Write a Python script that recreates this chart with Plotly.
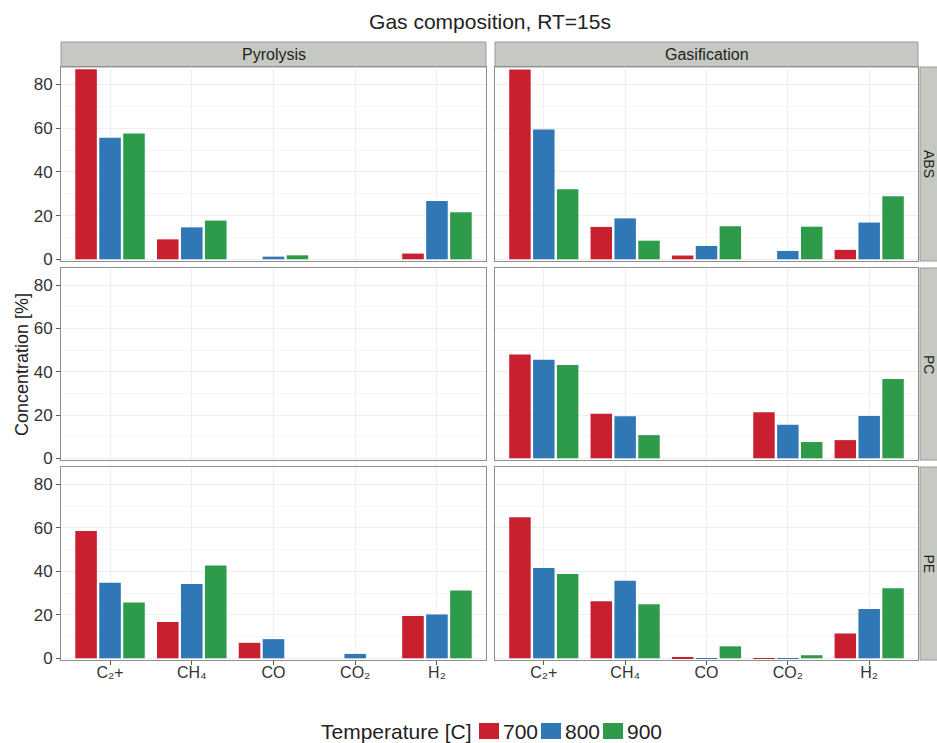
import plotly.graph_objects as go

W, H = 937, 743

categories = ["C₂+", "CH₄", "CO", "CO₂", "H₂"]
temperatures = ["700", "800", "900"]
materials = ["ABS", "PC", "PE"]
processes = ["Pyrolysis", "Gasification"]

# values (concentration in %)
abs_pyr_700 = [87.0, 9.1, 0.0, 0.0, 2.6]
abs_pyr_800 = [55.6, 14.6, 1.2, 0.0, 26.7]
abs_pyr_900 = [57.6, 17.7, 1.8, 0.0, 21.5]
abs_gas_700 = [86.9, 14.8, 1.7, 0.0, 4.3]
abs_gas_800 = [59.4, 18.7, 6.1, 3.8, 16.8]
abs_gas_900 = [32.0, 8.5, 15.1, 14.9, 28.8]
pc_pyr_700 = [None, None, None, None, None]
pc_pyr_800 = [None, None, None, None, None]
pc_pyr_900 = [None, None, None, None, None]
pc_gas_700 = [48.0, 20.6, 0.0, 21.3, 8.4]
pc_gas_800 = [45.6, 19.4, 0.0, 15.5, 19.5]
pc_gas_900 = [43.1, 10.7, 0.0, 7.5, 36.7]
pe_pyr_700 = [58.6, 16.7, 7.1, 0.0, 19.5]
pe_pyr_800 = [34.8, 34.2, 8.8, 2.0, 20.1]
pe_pyr_900 = [25.6, 42.7, 0.0, 0.0, 31.2]
pe_gas_700 = [64.9, 26.2, 0.2, 0.1, 11.4]
pe_gas_800 = [41.5, 35.7, 0.1, 0.1, 22.7]
pe_gas_900 = [38.8, 24.9, 5.5, 1.4, 32.2]

y_ticks = [0, 20, 40, 60, 80]

data = {
    ("ABS", "Pyrolysis"): [abs_pyr_700, abs_pyr_800, abs_pyr_900],
    ("ABS", "Gasification"): [abs_gas_700, abs_gas_800, abs_gas_900],
    ("PC", "Pyrolysis"): [pc_pyr_700, pc_pyr_800, pc_pyr_900],
    ("PC", "Gasification"): [pc_gas_700, pc_gas_800, pc_gas_900],
    ("PE", "Pyrolysis"): [pe_pyr_700, pe_pyr_800, pe_pyr_900],
    ("PE", "Gasification"): [pe_gas_700, pe_gas_800, pe_gas_900],
}

colors = ["#C8202E", "#2F77B5", "#2E9B4A"]
FONT = "Liberation Sans, Arial, Helvetica, sans-serif"

# panel geometry (pixels)
col_px = [(61, 486), (495, 918)]
row_px = [(67, 261), (268, 460), (467, 660)]


def px_x(p):
    return p / W


def px_y(p):
    return (H - p) / H


fig = go.Figure()
layout = dict()

for r, mat in enumerate(materials):
    for c, proc in enumerate(processes):
        k = r * 2 + c + 1
        xa = "x" if k == 1 else f"x{k}"
        ya = "y" if k == 1 else f"y{k}"
        for t, temp in enumerate(temperatures):
            fig.add_trace(go.Bar(
                x=categories, y=data[(mat, proc)][t], name=temp,
                marker=dict(color=colors[t], line=dict(width=0)),
                xaxis=xa, yaxis=ya, showlegend=False, offsetgroup=temp,
            ))
        xkey = "xaxis" if k == 1 else f"xaxis{k}"
        ykey = "yaxis" if k == 1 else f"yaxis{k}"
        bottom = r == 2
        left = c == 0
        layout[xkey] = dict(
            domain=[px_x(col_px[c][0]), px_x(col_px[c][1])],
            anchor=ya, type="category", range=[-0.6, 4.6],
            showgrid=True, gridcolor="#eeeeee", gridwidth=1,
            showline=True, mirror=True, linecolor="#8f8f8f", linewidth=1,
            showticklabels=bottom, ticks="outside" if bottom else "",
            ticklen=4, tickcolor="#555555", ticklabelstandoff=-6,
            tickfont=dict(family=FONT, size=16, color="#333333"),
            zeroline=False, fixedrange=True, automargin=False,
        )
        layout[ykey] = dict(
            domain=[px_y(row_px[r][1]), px_y(row_px[r][0])],
            anchor=xa, range=[-0.8, 88],
            tickvals=y_ticks, showgrid=True, gridcolor="#eeeeee", gridwidth=1,
            minor=dict(dtick=10, showgrid=True, gridcolor="#f6f6f6"),
            showline=True, mirror=True, linecolor="#8f8f8f", linewidth=1,
            showticklabels=left, ticks="outside" if left else "",
            ticklen=4, tickcolor="#555555",
            tickfont=dict(family=FONT, size=17, color="#333333"),
            zeroline=False, fixedrange=True, automargin=False,
        )

shapes = []
annotations = []
# column strips
for c, proc in enumerate(processes):
    x0, x1 = col_px[c]
    shapes.append(dict(type="rect", xref="paper", yref="paper",
                       x0=px_x(x0), x1=px_x(x1), y0=px_y(67), y1=px_y(42),
                       fillcolor="#c6c9c1", line=dict(color="#9a9a9a", width=1), layer="below"))
    annotations.append(dict(xref="paper", yref="paper", x=px_x((x0 + x1) / 2), y=px_y(54.5),
                            text=proc, showarrow=False, xanchor="center", yanchor="middle",
                            font=dict(family=FONT, size=16, color="#1e1e1e")))
# row strips (reaching the right edge)
for r, mat in enumerate(materials):
    y0, y1 = row_px[r]
    shapes.append(dict(type="rect", xref="paper", yref="paper",
                       x0=px_x(920), x1=px_x(960), y0=px_y(y1), y1=px_y(y0),
                       fillcolor="#c6c9c1", line=dict(color="#9a9a9a", width=1), layer="below"))
    annotations.append(dict(xref="paper", yref="paper", x=px_x(929), y=px_y((y0 + y1) / 2),
                            text=mat, showarrow=False, textangle=90,
                            xanchor="center", yanchor="middle",
                            font=dict(family=FONT, size=14, color="#1e1e1e")))

annotations.append(dict(xref="paper", yref="paper", x=px_x(22), y=px_y(365),
                        text="Concentration [%]", showarrow=False, textangle=-90,
                        xanchor="center", yanchor="middle",
                        font=dict(family=FONT, size=18, color="#222222")))

# legend at the bottom: title, then a colour key and label per temperature
LEG_Y = 731
annotations.append(dict(xref="paper", yref="paper", x=px_x(474), y=px_y(LEG_Y),
                        text="Temperature [C]", showarrow=False,
                        xanchor="right", yanchor="middle",
                        font=dict(family=FONT, size=21, color="#222222")))
for t, temp in enumerate(temperatures):
    kx = 479 + 62 * t
    shapes.append(dict(type="rect", xref="paper", yref="paper",
                       x0=px_x(kx), x1=px_x(kx + 20), y0=px_y(LEG_Y + 8), y1=px_y(LEG_Y - 8),
                       fillcolor=colors[t], line=dict(width=0)))
    annotations.append(dict(xref="paper", yref="paper", x=px_x(kx + 22), y=px_y(LEG_Y),
                            text=temp, showarrow=False, xanchor="left", yanchor="middle",
                            font=dict(family=FONT, size=21, color="#222222")))

fig.update_layout(
    **layout,
    width=W, height=H,
    margin=dict(l=0, r=0, t=0, b=0, autoexpand=False),
    paper_bgcolor="white", plot_bgcolor="white",
    barmode="group", bargap=0.12, bargroupgap=0.1,
    showlegend=False,
    title=dict(text="Gas composition, RT=15s", x=px_x(490), y=px_y(22),
               xref="container", yref="container",
               xanchor="center", yanchor="middle",
               font=dict(family=FONT, size=21, color="#222222")),
    shapes=shapes, annotations=annotations,
    font=dict(family=FONT),
)

fig.write_html("out.html", config={"displayModeBar": False},
               post_script="document.body.style.margin='0px';document.body.style.overflow='hidden';")
